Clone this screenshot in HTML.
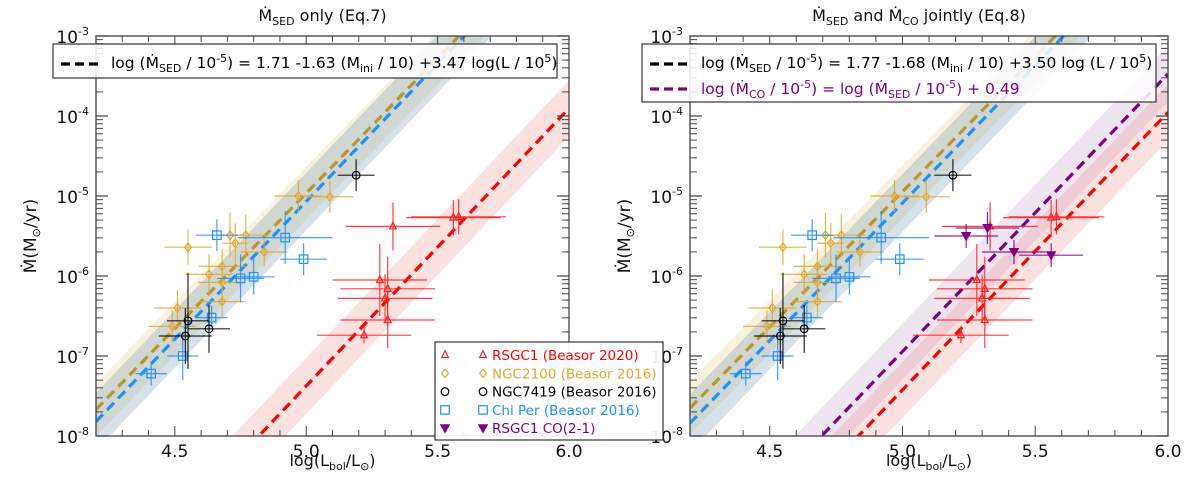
<!DOCTYPE html>
<html><head><meta charset="utf-8">
<style>
html,body{margin:0;background:#fff;width:1200px;height:481px;overflow:hidden;}
svg{display:block;font-family:"DejaVu Sans","Liberation Sans",sans-serif;}
</style></head>
<body>
<svg id="fig" width="1200" height="481" viewBox="0 0 1200 481" xmlns="http://www.w3.org/2000/svg"></svg>
<script>
// ---- data ----
const ngc2100X = [4.97,5.09,4.55,4.71,4.77,4.73,4.84,4.68,4.63,4.68,4.68,4.51,4.49];
const ngc2100Y = [-5.0,-5.01,-5.64,-5.49,-5.49,-5.59,-5.70,-5.88,-5.98,-6.08,-6.32,-6.40,-6.63];
const ngc2100Xe = [0.09,0.09,0.09,0.05,0.09,0.05,0.09,0.09,0.09,0.09,0.09,0.09,0.09];
const ngc2100Ye = [0.2,0.2,0.22,0.28,0.26,0.25,0.18,0.22,0.25,0.22,0.2,0.23,0.2];
const chiPerX = [4.66,4.92,4.99,4.75,4.80,4.64,4.53,4.41];
const chiPerY = [-5.49,-5.52,-5.79,-6.03,-6.01,-6.52,-7.0,-7.22];
const chiPerXe = [0.08,0.18,0.09,0.09,0.08,0.06,0.06,0.06];
const chiPerYe = [0.2,0.33,0.2,0.3,0.22,0.15,0.3,0.15];
const ngc7419X = [5.19,4.55,4.54,4.63];
const ngc7419Y = [-4.74,-6.56,-6.75,-6.66];
const ngc7419Xe = [0.07,0.08,0.1,0.08];
const ngc7419Ye = [0.2,0.6,0.35,0.3];
const rsgc1X = [5.33,5.56,5.58,5.28,5.31,5.30,5.31,5.22];
const rsgc1Y = [-5.38,-5.27,-5.26,-6.05,-6.16,-6.28,-6.55,-6.74];
const rsgc1Xe = [0.18,0.18,0.18,0.18,0.18,0.18,0.18,0.18];
const rsgc1Ye = [0.3,0.22,0.22,0.45,0.4,0.3,0.35,0.1];
const coX = [5.24,5.32,5.42,5.56];
const coY = [-5.5,-5.40,-5.70,-5.74];
const coXe = [0.12,0.12,0.12,0.12];
const coYe = [0.15,0.2,0.15,0.15];
// fit lines: log Mdot at x=4.2 and slope
const leftLineNames = ["ngc2100","chiper","rsgc1"];
const leftLineY0 = [-7.67,-7.82,-10.15];
const leftLineSlope = [3.38,3.44,3.47];
const rightLineNames = ["ngc2100","chiper","co","rsgc1"];
const rightLineY0 = [-7.65,-7.84,-9.72,-10.2];
const rightLineSlope = [3.38,3.44,3.47,3.47];
const xTicks = [4.5,5.0,5.5,6.0];
const xTickLabels = ["4.5","5.0","5.5","6.0"];
const yDecades = [-3,-4,-5,-6,-7,-8];

const NS="http://www.w3.org/2000/svg";
const svg=document.getElementById('fig');
function el(tag,attrs,parent){const e=document.createElementNS(NS,tag);for(const k in attrs)e.setAttribute(k,attrs[k]);(parent||svg).appendChild(e);return e;}

const colors={ngc2100:"#e0a82e",chiper:"#1e90ff",ngc7419:"#000",rsgc1:"#ff2020",co:"#800080"};
const lineColors={ngc2100:"#b8962e",chiper:"#1e90ff",rsgc1:"#ff0000",co:"#800080"};
const bandColors={ngc2100:"rgba(235,215,160,0.35)",chiper:"rgba(70,120,160,0.22)",rsgc1:"rgba(240,120,120,0.22)",co:"rgba(190,150,200,0.25)"};
const bandHalf={ngc2100:0.33,chiper:0.36,rsgc1:0.35,co:0.35};

function panel(id,x0,x1,lineNames,lineY0,lineSlope,withCO,title){
  const y0=36,y1=436;
  const sx=v=>x0+(v-4.2)/(6.0-4.2)*(x1-x0);
  const sy=v=>y0+(-3-v)/5*(y1-y0);
  const g=el('g',{});
  
  
  const cp=el('clipPath',{id:id+'-clip'},g);
  el('rect',{x:x0,y:y0,width:x1-x0,height:y1-y0},cp);
  const plot=el('g',{'clip-path':'url(#'+id+'-clip)'},g);
  lineNames.forEach((n,i)=>{
    const f=x=>lineY0[i]+lineSlope[i]*(x-4.2);
    const h=bandHalf[n];
    const p=[[4.2,f(4.2)+h],[6.0,f(6.0)+h],[6.0,f(6.0)-h],[4.2,f(4.2)-h]].map(q=>sx(q[0])+','+sy(q[1])).join(' ');
    const b=el('polygon',{points:p,fill:bandColors[n]},plot);
    
    
  });
  lineNames.forEach((n,i)=>{
    const f=x=>lineY0[i]+lineSlope[i]*(x-4.2);
    const l=el('line',{x1:sx(4.2),y1:sy(f(4.2)),x2:sx(6.0),y2:sy(f(6.0)),stroke:lineColors[n],'stroke-width':3.2,'stroke-dasharray':'10,6'},plot);
    
    
  });
  const series=[["ngc2100",ngc2100X,ngc2100Y,ngc2100Xe,ngc2100Ye,"diamond"],
    ["chiper",chiPerX,chiPerY,chiPerXe,chiPerYe,"square"],
    ["ngc7419",ngc7419X,ngc7419Y,ngc7419Xe,ngc7419Ye,"circle"],
    ["rsgc1",rsgc1X,rsgc1Y,rsgc1Xe,rsgc1Ye,"triangle"]];
  if(withCO) series.push(["co",coX,coY,coXe,coYe,"dtriangle"]);
  series.forEach(s=>{
    const [n,X,Y,XE,YE,shape]=s;const c=colors[n];
    X.forEach((xv,i)=>{
      const px=sx(xv),py=sy(Y[i]);
      const pg=el('g',{},plot);
      
      
      el('line',{x1:sx(xv-XE[i]),y1:py,x2:sx(xv+XE[i]),y2:py,stroke:c,'stroke-width':1.2,opacity:0.85},pg);
      el('line',{x1:px,y1:sy(Y[i]-YE[i]),x2:px,y2:sy(Y[i]+YE[i]),stroke:c,'stroke-width':1.2,opacity:0.85},pg);
      marker(pg,shape,px,py,c,0.85);
    });
  });
  const fr=el('rect',{x:x0,y:y0,width:x1-x0,height:y1-y0,fill:'none',stroke:'#444','stroke-width':1.3},g);
  
  
  for(let k=42;k<=60;k++){const v=k/10;const major=(k%5===0);const L=major?10:6;const px=sx(v);
    el('line',{x1:px,y1:y1,x2:px,y2:y1-L,stroke:'#444','stroke-width':1},g);
    el('line',{x1:px,y1:y0,x2:px,y2:y0+L,stroke:'#444','stroke-width':1},g);}
  xTicks.forEach((v,i)=>{const t=el('text',{x:sx(v),y:y1+21,'font-size':17,'text-anchor':'middle',fill:'#111'},g);t.textContent=xTickLabels[i];
    
    });
  yDecades.forEach(d=>{const py=sy(d);
    el('line',{x1:x0,y1:py,x2:x0+12,y2:py,stroke:'#444','stroke-width':1.2},g);
    el('line',{x1:x1,y1:py,x2:x1-12,y2:py,stroke:'#444','stroke-width':1.2},g);
    const t=el('text',{x:x0-7,y:py+7,'font-size':17,'text-anchor':'end',fill:'#111'},g);
    
    
    t.innerHTML='10<tspan dy="-8" font-size="11">'+d+'</tspan>';
    if(d>-8){for(let m=2;m<=9;m++){const yy=sy(d-1+Math.log10(m));
      el('line',{x1:x0,y1:yy,x2:x0+7,y2:yy,stroke:'#444','stroke-width':1},g);
      el('line',{x1:x1,y1:yy,x2:x1-7,y2:yy,stroke:'#444','stroke-width':1},g);}}
  });
  const xt=el('text',{x:(x0+x1)/2,y:466,'font-size':16,'text-anchor':'middle',fill:'#111'},g);
  
  
  xt.innerHTML='log(L<tspan dy="4" font-size="11">bol</tspan><tspan dy="-4">/L</tspan><tspan dy="4" font-size="11">⊙</tspan><tspan dy="-4">)</tspan>';
  const ax=x0-62;
  const yt=el('text',{x:0,y:0,'font-size':17,'text-anchor':'middle',fill:'#111',transform:'translate('+(ax+2)+',236) rotate(-90)'},g);
  
  
  yt.innerHTML='Ṁ(M<tspan dy="4" font-size="11">⊙</tspan><tspan dy="-4">/yr)</tspan>';
  const tt=el('text',{x:(x0+x1)/2-10,y:21,'font-size':16,'text-anchor':'middle',fill:'#111'},g);
  
  
  tt.innerHTML=title;
  return {sx,sy};
}
function marker(parent,shape,x,y,c,sc){
  const s=sc||1;
  if(shape==='diamond') return el('polygon',{points:`${x},${y-5*s} ${x+4*s},${y} ${x},${y+5*s} ${x-4*s},${y}`,fill:'none',stroke:c,'stroke-width':1.2},parent);
  if(shape==='square') return el('rect',{x:x-5*s,y:y-5*s,width:10*s,height:10*s,fill:'none',stroke:c,'stroke-width':1.2},parent);
  if(shape==='circle') return el('circle',{cx:x,cy:y,r:4.5*s,fill:'none',stroke:c,'stroke-width':1.2},parent);
  if(shape==='triangle') return el('polygon',{points:`${x},${y-5*s} ${x+4*s},${y+3*s} ${x-4*s},${y+3*s}`,fill:'none',stroke:c,'stroke-width':1.2},parent);
  return el('polygon',{points:`${x-5*s},${y-4*s} ${x+5*s},${y-4*s} ${x},${y+5*s}`,fill:c,stroke:c,'stroke-width':1.2},parent);
}
const sub=s=>'<tspan dy="4" font-size="11">'+s+'</tspan><tspan dy="-4">';
const sup=s=>'<tspan dy="-6" font-size="11">'+s+'</tspan><tspan dy="6">';
panel('left-panel',96,569,leftLineNames,leftLineY0,leftLineSlope,false,'Ṁ'+sub('SED')+' only (Eq.7)</tspan>');
panel('right-panel',690,1168,rightLineNames,rightLineY0,rightLineSlope,true,'Ṁ'+sub('SED')+' and Ṁ'+sub('CO')+' jointly (Eq.8)</tspan></tspan>');

function eqBox(name,x,y,w,h){const r=el('rect',{x,y,width:w,height:h,fill:'rgba(255,255,255,0.85)',stroke:'#333','stroke-width':1.2});
  
  }
eqBox('left-equation-box',53,44,504,34);
el('line',{x1:61,y1:64,x2:103,y2:64,stroke:'#000','stroke-width':3.2,'stroke-dasharray':'9,5'});
let t=el('text',{x:111,y:68,'font-size':15.5,fill:'#000'});


t.innerHTML='log (Ṁ'+sub('SED')+' / 10'+sup('-5')+') = 1.71 -1.63 (M'+sub('ini')+' / 10) +3.47 log(L / 10'+sup('5')+')</tspan></tspan></tspan></tspan>';
eqBox('right-equation-box',642,44,514,58);
el('line',{x1:650,y1:64,x2:692,y2:64,stroke:'#000','stroke-width':3.2,'stroke-dasharray':'9,5'});
el('line',{x1:650,y1:89,x2:692,y2:89,stroke:'#800080','stroke-width':3.2,'stroke-dasharray':'9,5'});
t=el('text',{x:701,y:68,'font-size':15.5,fill:'#000'});


t.innerHTML='log (Ṁ'+sub('SED')+' / 10'+sup('-5')+') =  1.77 -1.68 (M'+sub('ini')+' / 10) +3.50 log (L / 10'+sup('5')+')</tspan></tspan></tspan></tspan>';
t=el('text',{x:701,y:94,'font-size':15.5,fill:'#800080'});


t.innerHTML='log (Ṁ'+sub('CO')+' / 10'+sup('-5')+') = log (Ṁ'+sub('SED')+' / 10'+sup('-5')+') + 0.49</tspan></tspan></tspan></tspan>';

const lg=el('g',{});


el('rect',{x:435,y:342,width:228,height:98,fill:'rgba(255,255,255,0.92)',stroke:'#333','stroke-width':1.2},lg);
const legNames=["RSGC1 (Beasor 2020)","NGC2100 (Beasor 2016)","NGC7419 (Beasor 2016)","Chi Per (Beasor 2016)","RSGC1 CO(2-1)"];
const legKeys=["rsgc1","ngc2100","ngc7419","chiper","co"];
const legShapes=["triangle","diamond","circle","square","dtriangle"];
legNames.forEach((n,i)=>{const y=355+i*18.3;const c=colors[legKeys[i]];
  const e=el('g',{},lg);
  
  
  marker(e,legShapes[i],445,y,c,0.85);marker(e,legShapes[i],483,y,c,0.85);
  const tx=el('text',{x:492,y:y+5,'font-size':13.5,fill:legKeys[i]==='rsgc1'?'#ff0000':c},e);tx.textContent=n;});
</script>
</body></html>
